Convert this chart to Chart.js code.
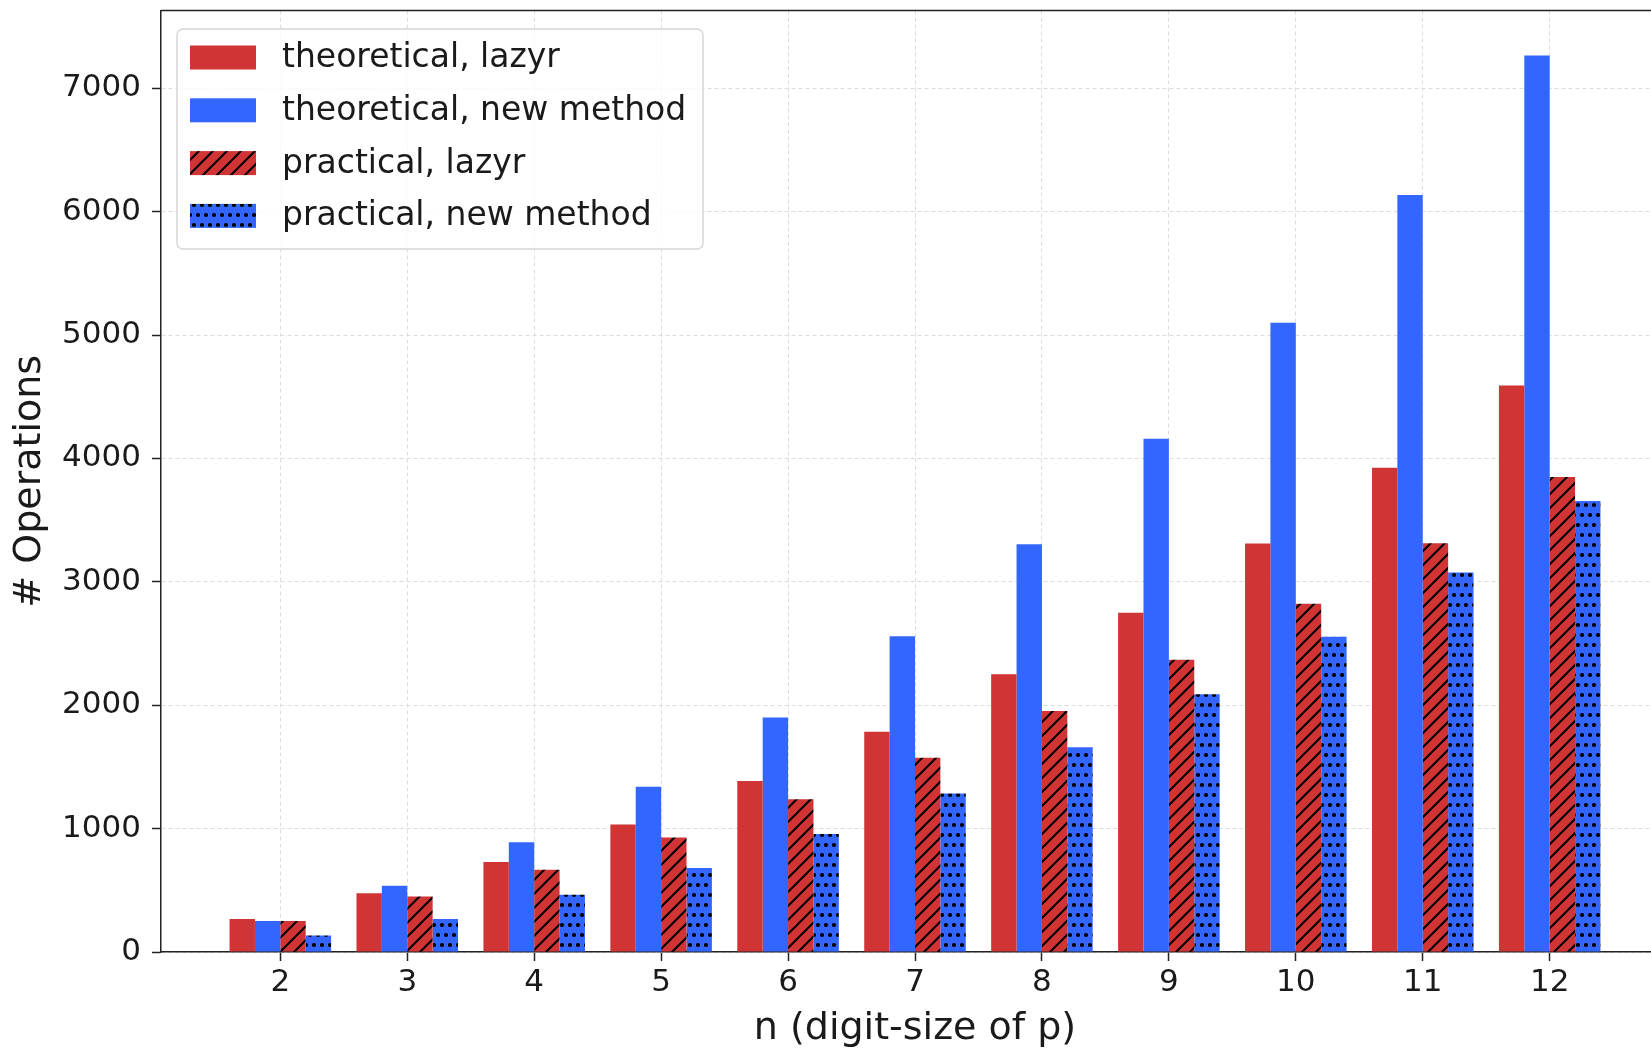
<!DOCTYPE html>
<html>
<head>
<meta charset="utf-8">
<script src="https://cdn.jsdelivr.net/npm/chart.js@4.4.1/dist/chart.umd.min.js"></script>
<style>
  html, body { margin: 0; padding: 0; background: #fff; overflow: hidden; }
  /* plot is a bit wider than the window: the right spine falls just outside, like the source image */
  #wrap { width: 1669px; height: 1049px; }
</style>
</head>
<body>
<div id="wrap"><canvas id="opsChart"></canvas></div>
<script>
const digitSizes = [2, 3, 4, 5, 6, 7, 8, 9, 10, 11, 12];
const theoLazyr = [268, 476, 730, 1033, 1385, 1785, 2250, 2750, 3310, 3925, 4590];
const theoNew   = [252, 536, 890, 1340, 1900, 2558, 3305, 4160, 5100, 6135, 7265];
const pracLazyr = [252, 450, 667, 928, 1237, 1575, 1953, 2368, 2822, 3312, 3850];
const pracNew   = [134, 268, 463, 680, 957, 1285, 1660, 2088, 2555, 3075, 3655];
const yTicks = [0, 1000, 2000, 3000, 4000, 5000, 6000, 7000];

const FONT = 'DejaVu Sans';
const RED = '#d03434';
const BLUE = '#3366ff';
const INK = '#1a1a1a';

const ctx = document.getElementById('opsChart').getContext('2d');

// '//' hatch on red
function hatchPattern(bg) {
  const s = 14;
  const c = document.createElement('canvas');
  c.width = s; c.height = s;
  const g = c.getContext('2d');
  g.fillStyle = bg;
  g.fillRect(0, 0, s, s);
  g.strokeStyle = '#000';
  g.lineWidth = 2;
  g.beginPath();
  [0, s, 2 * s].forEach(k => { g.moveTo(-1, k + 1); g.lineTo(k + 1, -1); });
  g.stroke();
  return ctx.createPattern(c, 'repeat');
}

// '.' hatch on blue (staggered dots)
function dotPattern(bg) {
  const c = document.createElement('canvas');
  c.width = 8; c.height = 20;
  const g = c.getContext('2d');
  g.fillStyle = bg;
  g.fillRect(0, 0, 8, 20);
  g.fillStyle = '#000';
  [[2, 5], [6, 15]].forEach(([x, y]) => {
    g.beginPath(); g.arc(x, y, 2.1, 0, Math.PI * 2); g.fill();
  });
  return ctx.createPattern(c, 'repeat');
}

const toPoints = vals => vals.map((v, i) => ({ x: digitSizes[i], y: v }));

// top spine + matplotlib-like legend inside the axes
const axesDecor = {
  id: 'axesDecor',
  afterDatasetsDraw(chart) {
    const c = chart.ctx;
    const a = chart.chartArea;
    c.save();
    c.strokeStyle = '#222';
    c.lineWidth = 1.5;
    c.beginPath();
    c.moveTo(a.left, a.top);
    c.lineTo(a.right, a.top);
    c.stroke();

    const x0 = a.left + 16, y0 = a.top + 18.5, w = 526, h = 220;
    c.beginPath();
    c.roundRect(x0, y0, w, h, 6);
    c.fillStyle = 'rgba(255,255,255,0.8)';
    c.fill();
    c.strokeStyle = '#d6d6d6';
    c.lineWidth = 1.5;
    c.stroke();

    c.font = '33px "' + FONT + '"';
    c.textBaseline = 'middle';
    c.textAlign = 'left';
    chart.data.datasets.forEach((ds, i) => {
      const cy = y0 + 28.5 + i * 52.8;
      c.fillStyle = ds.backgroundColor;
      c.fillRect(x0 + 13, cy - 12, 66, 24);
      c.fillStyle = INK;
      c.fillText(ds.label, x0 + 105, cy + 1);
    });
    c.restore();
  }
};

const barOpts = { borderWidth: 0, categoryPercentage: 0.8, barPercentage: 1.0 };

new Chart(ctx, {
  type: 'bar',
  data: {
    datasets: [
      { label: 'theoretical, lazyr', data: toPoints(theoLazyr), backgroundColor: RED, ...barOpts },
      { label: 'theoretical, new method', data: toPoints(theoNew), backgroundColor: BLUE, ...barOpts },
      { label: 'practical, lazyr', data: toPoints(pracLazyr), backgroundColor: hatchPattern(RED), ...barOpts },
      { label: 'practical, new method', data: toPoints(pracNew), backgroundColor: dotPattern(BLUE), ...barOpts }
    ]
  },
  options: {
    responsive: true,
    maintainAspectRatio: false,
    animation: false,
    devicePixelRatio: 1,
    layout: { padding: { top: 10.5, left: 0, right: 0, bottom: 0 } },
    plugins: {
      legend: { display: false },
      tooltip: { enabled: false }
    },
    scales: {
      x: {
        type: 'linear',
        min: 1.06,
        max: 12.94,
        offset: false,
        afterBuildTicks: s => { s.ticks = digitSizes.map(v => ({ value: v })); },
        afterFit: s => { s.height = 97; s.paddingLeft = 0; s.paddingRight = 0; },
        grid: { offset: false, color: '#dcdcdc', lineWidth: 1, tickLength: 9, tickColor: '#222', tickWidth: 1.5, tickBorderDash: [] },
        border: { display: true, color: '#222', width: 1.5, dash: [4, 3] },
        ticks: { font: { family: FONT, size: 31 }, color: INK, padding: 3, maxRotation: 0, autoSkip: false, callback: v => String(v) },
        title: { display: true, text: 'n (digit-size of p)', font: { family: FONT, size: 38, lineHeight: 1 }, color: INK, padding: { top: 0, bottom: 1 } }
      },
      y: {
        min: 0,
        max: 7630,
        afterBuildTicks: s => { s.ticks = yTicks.map(v => ({ value: v })); },
        afterFit: s => { s.width = 161; s.paddingTop = 0; s.paddingBottom = 0; },
        grid: { color: '#dcdcdc', lineWidth: 1, tickLength: 9, tickColor: '#222', tickWidth: 1.5, tickBorderDash: [] },
        border: { display: true, color: '#222', width: 1.5, dash: [4, 3] },
        ticks: { font: { family: FONT, size: 31 }, color: INK, padding: 11, callback: v => String(v) },
        title: { display: true, text: '# Operations', font: { family: FONT, size: 38, lineHeight: 1 }, color: INK, padding: { top: 11, bottom: 0 } }
      }
    }
  },
  plugins: [axesDecor]
});
</script>
</body>
</html>
